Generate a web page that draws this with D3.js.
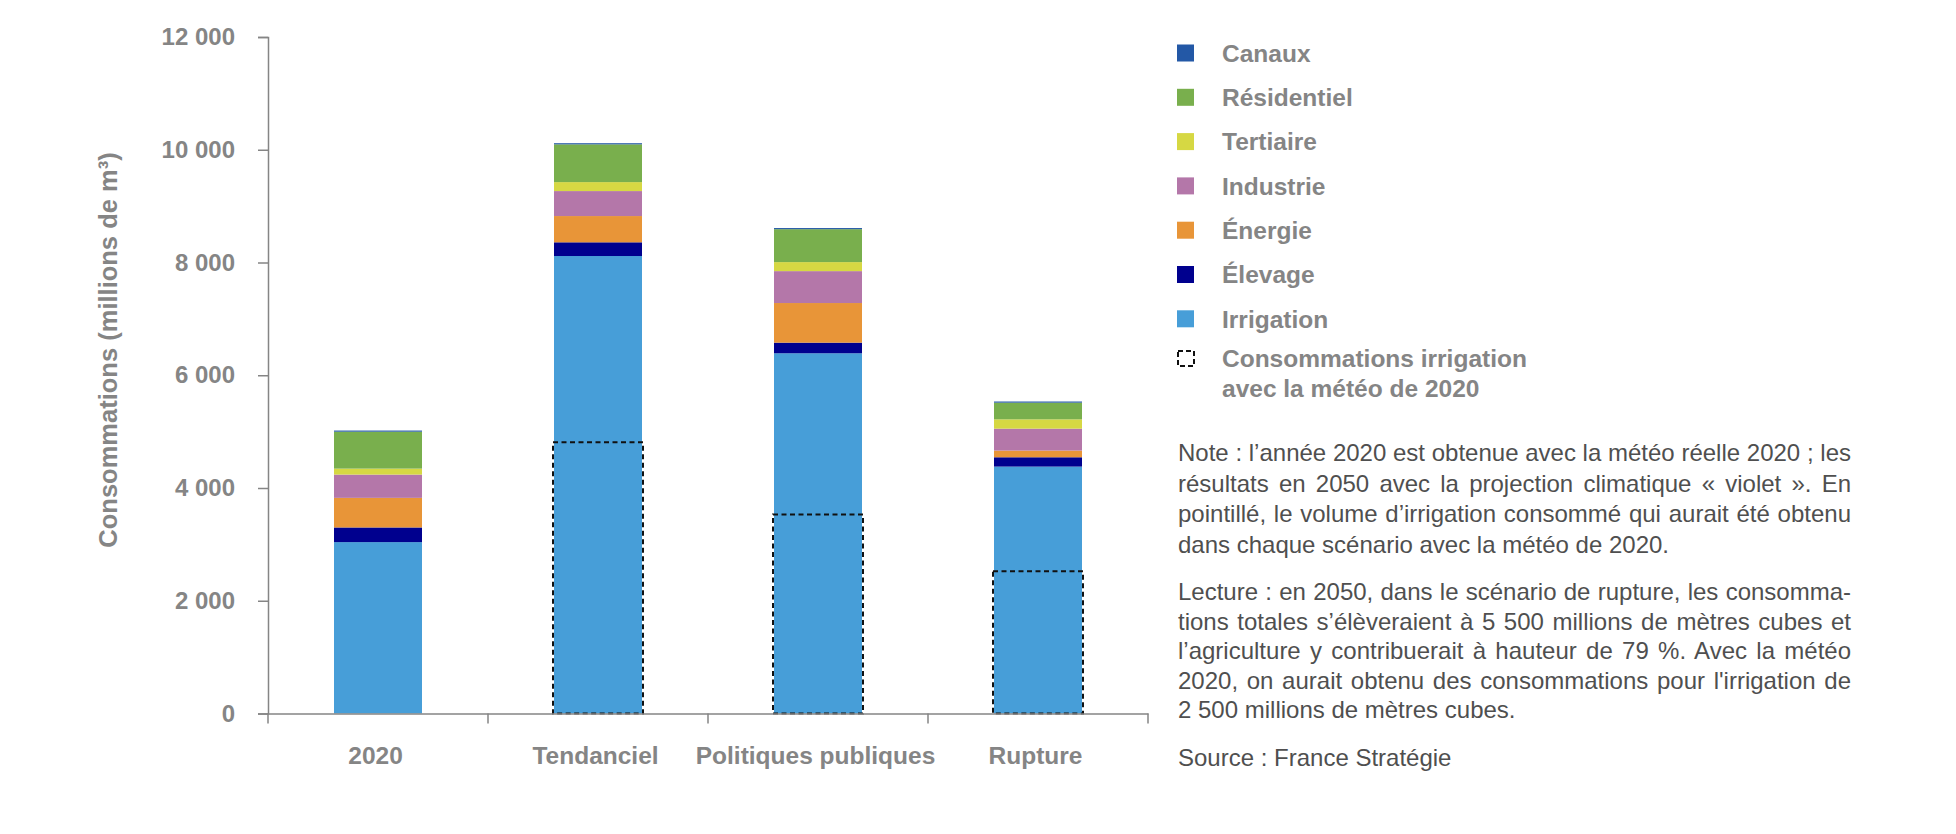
<!DOCTYPE html>
<html lang="fr">
<head>
<meta charset="utf-8">
<script src="https://cdn.jsdelivr.net/npm/d3@7"></script>
<style>
  body { margin: 0; background: #fff; }
  #wrap { position: relative; width: 1956px; height: 834px; overflow: hidden; }
  #viz { position: absolute; left: 0; top: 0; }
  #notes { position: absolute; left: 1178px; top: 0; width: 673px;
           font-family: "Liberation Sans", Arial, sans-serif; font-size: 24px; color: #4f4f4f; }
  .line { position: absolute; left: 0; height: 30px; line-height: 30px; white-space: nowrap; }
</style>
</head>
<body>
<div id="wrap">
  <div id="viz"></div>
  <div id="notes"></div>
</div>
<script>
// data (millions de m3)
const categories = ["2020", "Tendanciel", "Politiques publiques", "Rupture"];
const irrigation  = [3040, 8115, 6390, 4380];
const elevage     = [260, 243, 188, 165];
const energie     = [525, 466, 703, 119];
const industrie   = [413, 443, 566, 389];
const tertiaire   = [106, 159, 160, 165];
const residentiel = [655, 670, 584, 296];
const canaux      = [20, 20, 20, 20];
// irrigation with 2020 weather (dashed outline)
const irrigationMeteo2020 = [null, 4810, 3530, 2525];

const yTicks = [0, 2000, 4000, 6000, 8000, 10000, 12000];

const seriesNames = ["Irrigation", "Élevage", "Énergie", "Industrie", "Tertiaire", "Résidentiel", "Canaux"];
const seriesValues = [irrigation, elevage, energie, industrie, tertiaire, residentiel, canaux];
const seriesColors = ["#479ed8", "#00008e", "#e89538", "#b477a9", "#d6d843", "#79af4d", "#2358a6"];

const noteLines = [
  "Note : l’année 2020 est obtenue avec la météo réelle 2020 ; les",
  "résultats en 2050 avec la projection climatique « violet ». En",
  "pointillé, le volume d’irrigation consommé qui aurait été obtenu",
  "dans chaque scénario avec la météo de 2020."
];
const lectureLines = [
  "Lecture : en 2050, dans le scénario de rupture, les consomma-",
  "tions totales s’élèveraient à 5 500 millions de mètres cubes et",
  "l’agriculture y contribuerait à hauteur de 79 %. Avec la météo",
  "2020, on aurait obtenu des consommations pour l'irrigation de",
  "2 500 millions de mètres cubes."
];
const sourceLine = "Source : France Stratégie";

const FONT = '"Liberation Sans", Arial, Helvetica, sans-serif';
const GREY = "#858585";

const rows = categories.map((c, i) => {
  const r = { cat: c };
  seriesNames.forEach((s, j) => r[s] = seriesValues[j][i]);
  return r;
});
const stacked = d3.stack().keys(seriesNames)(rows);

const svg = d3.select("#viz")
              .append("svg")
              .attr("width", 1956)
              .attr("height", 834)
              .style("font-family", FONT);

const x = d3.scaleBand()
            .domain(categories)
            .range([268, 1148])
            .paddingInner(0.6)
            .paddingOuter(0.3);

const y = d3.scaleLinear()
            .domain([0, 12000])
            .range([713.5, 37]);

const fmt = d3.formatLocale({ decimal: ",", thousands: " ", grouping: [3], currency: ["", " €"] }).format(",d");

// y axis
const yAxis = svg.append("g")
   .attr("transform", "translate(268,0)")
   .call(d3.axisLeft(y).tickValues(yTicks).tickSize(10).tickPadding(23).tickFormat(fmt));
yAxis.select(".domain").attr("stroke", GREY).attr("stroke-width", 1.5);
yAxis.selectAll(".tick line").attr("stroke", GREY).attr("stroke-width", 1.5);
yAxis.selectAll("text")
     .attr("fill", GREY)
     .style("font-size", "24px")
     .style("font-weight", "bold")
     .style("font-family", FONT);

// bars
svg.append("g")
   .selectAll("g")
   .data(stacked)
   .enter()
   .append("g")
   .attr("fill", (d, i) => seriesColors[i])
   .selectAll("rect")
   .data(d => d)
   .enter()
   .append("rect")
   .attr("x", d => x(d.data.cat))
   .attr("y", d => y(d[1]))
   .attr("width", x.bandwidth())
   .attr("height", d => y(d[0]) - y(d[1]));

// dashed outline: irrigation with 2020 weather
svg.append("g")
   .selectAll("rect")
   .data(categories.map((c, i) => ({ cat: c, v: irrigationMeteo2020[i] })).filter(d => d.v != null))
   .enter()
   .append("rect")
   .attr("x", d => x(d.cat) - 1)
   .attr("y", d => y(d.v))
   .attr("width", x.bandwidth() + 2)
   .attr("height", d => y(0) - y(d.v))
   .attr("fill", "none")
   .attr("stroke", "#111")
   .attr("stroke-width", 2)
   .attr("stroke-dasharray", "5,3.5");

// x axis: baseline, boundary ticks, labels
const xAxis = svg.append("g")
   .attr("transform", `translate(0,${y(0)})`)
   .call(d3.axisBottom(x).tickSize(0).tickPadding(33));
xAxis.select(".domain").attr("stroke", GREY).attr("stroke-width", 1.5);
xAxis.selectAll("text")
     .attr("fill", GREY)
     .attr("dx", -2.5)
     .style("font-size", "24.5px")
     .style("font-weight", "bold")
     .style("font-family", FONT);

const bounds = d3.range(categories.length + 1).map(i => 268 + i * x.step());
xAxis.selectAll(".bound")
     .data(bounds)
     .enter()
     .append("line")
     .attr("x1", d => d).attr("x2", d => d)
     .attr("y1", 0).attr("y2", 10)
     .attr("stroke", GREY)
     .attr("stroke-width", 1.5);

// y title
svg.append("text")
   .attr("transform", "translate(117,350) rotate(-90)")
   .attr("text-anchor", "middle")
   .attr("fill", GREY)
   .style("font-size", "25.5px")
   .style("font-weight", "bold")
   .text("Consommations (millions de m³)");

// legend
const legendItems = seriesNames.map((s, i) => ({ name: s, color: seriesColors[i] })).reverse();
const lg = svg.append("g").attr("transform", "translate(1177,53)");
legendItems.forEach((d, i) => {
  const g = lg.append("g").attr("transform", `translate(0,${i * 44.3})`);
  g.append("rect").attr("x", 0).attr("y", -8.5).attr("width", 17).attr("height", 17).attr("fill", d.color);
  g.append("text").attr("x", 45).attr("y", 0).attr("dy", "0.36em")
   .attr("fill", GREY).style("font-size", "24.5px").style("font-weight", "bold").text(d.name);
});
const gd = lg.append("g").attr("transform", `translate(0,${7 * 44.3 - 4.5})`);
gd.append("rect").attr("x", 1).attr("y", -7.5).attr("width", 16).attr("height", 15)
  .attr("fill", "none").attr("stroke", "#111").attr("stroke-width", 2).attr("stroke-dasharray", "5,3");
gd.append("text").attr("x", 45).attr("y", 0).attr("dy", "0.36em")
  .attr("fill", GREY).style("font-size", "24.5px").style("font-weight", "bold")
  .text("Consommations irrigation");
gd.append("text").attr("x", 45).attr("y", 30).attr("dy", "0.36em")
  .attr("fill", GREY).style("font-size", "24.5px").style("font-weight", "bold")
  .text("avec la météo de 2020");

// note block: each line justified to the box width with word-spacing
const notes = d3.select("#notes");
const boxW = 673;
function addLines(lines, top, step) {
  lines.forEach((t, i) => {
    const div = notes.append("div")
         .attr("class", "line")
         .style("top", (top + i * step - 15) + "px")
         .text(t);
    if (i < lines.length - 1) {
      const natural = div.node().getBoundingClientRect().width;
      const gaps = (t.match(/ /g) || []).length;
      if (gaps) div.style("word-spacing", ((boxW - natural) / gaps) + "px");
    }
  });
}
addLines(noteLines, 453, 30.5);
addLines(lectureLines, 592, 29.6);
addLines([sourceLine], 758, 30);
</script>
</body>
</html>
